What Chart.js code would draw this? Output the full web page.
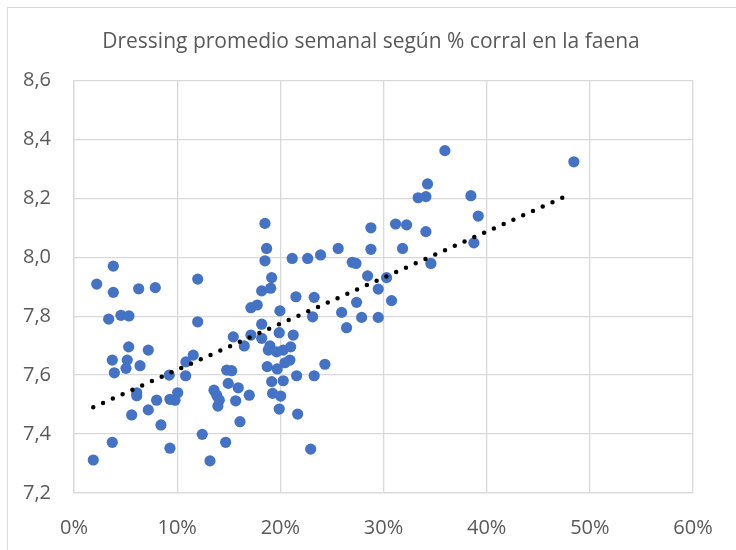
<!DOCTYPE html>
<html>
<head>
<meta charset="utf-8">
<script src="https://cdn.jsdelivr.net/npm/chart.js@4/dist/chart.umd.min.js"></script>
<style>
html,body{margin:0;padding:0;background:#fff;overflow:hidden;width:736px;height:550px;}
#frame{position:absolute;left:7px;top:7px;width:800px;height:600px;border:1px solid #D9D9D9;}
#wrap{position:absolute;left:8px;top:8px;width:736px;height:550px;}
</style>
</head>
<body>
<div id="frame"></div>
<div id="wrap"><canvas id="c" width="736" height="550"></canvas></div>
<script>
const chartTitle = 'Dressing promedio semanal según % corral en la faena';

// % corral en la faena (percent)
const pctCorral = [
  3.81, 2.20, 3.81, 6.27, 7.88, 11.99, 3.36, 4.55, 5.33, 11.99,
  15.44, 5.30, 7.20, 3.71, 5.16, 5.04, 3.91, 6.40, 11.56, 10.85,
  9.23, 10.82, 14.80, 15.28, 14.95, 6.08, 6.08, 8.01, 9.30, 9.79,
  10.05, 7.20, 5.59, 8.43, 13.57, 13.83, 14.08, 13.95, 15.67, 12.43,
  3.71, 9.30, 14.70, 1.87, 13.18, 16.09, 18.51, 18.67, 18.51, 21.15,
  22.65, 23.90, 25.61, 19.16, 18.19, 19.06, 21.51, 23.28, 17.15, 17.76,
  19.96, 25.94, 23.13, 26.42, 18.19, 19.89, 21.25, 17.15, 18.19, 16.50,
  18.99, 18.83, 19.64, 20.28, 21.00, 20.45, 20.93, 24.32, 18.73, 19.70,
  21.58, 23.28, 19.16, 20.28, 15.92, 16.99, 19.25, 20.03, 19.89, 21.68,
  22.94, 35.95, 34.27, 33.36, 34.11, 38.47, 39.18, 31.17, 32.24, 28.78,
  34.11, 28.78, 31.85, 38.76, 26.97, 27.33, 34.59, 28.46, 30.30, 29.49,
  30.78, 27.39, 27.88, 29.49, 48.45
];

// Dressing promedio semanal
const dressing = [
  7.970, 7.909, 7.881, 7.893, 7.897, 7.926, 7.790, 7.803, 7.801, 7.781,
  7.730, 7.696, 7.685, 7.651, 7.651, 7.623, 7.608, 7.632, 7.668, 7.645,
  7.600, 7.598, 7.617, 7.615, 7.572, 7.540, 7.530, 7.515, 7.518, 7.515,
  7.540, 7.482, 7.465, 7.431, 7.549, 7.532, 7.515, 7.495, 7.513, 7.399,
  7.372, 7.352, 7.372, 7.312, 7.309, 7.442, 8.115, 8.030, 7.988, 7.996,
  7.996, 8.008, 8.030, 7.931, 7.886, 7.895, 7.866, 7.864, 7.829, 7.838,
  7.818, 7.813, 7.798, 7.761, 7.773, 7.744, 7.736, 7.736, 7.725, 7.699,
  7.699, 7.685, 7.679, 7.685, 7.696, 7.642, 7.651, 7.637, 7.629, 7.621,
  7.598, 7.598, 7.578, 7.581, 7.557, 7.532, 7.538, 7.529, 7.485, 7.468,
  7.349, 8.362, 8.249, 8.202, 8.206, 8.209, 8.140, 8.113, 8.110, 8.100,
  8.087, 8.027, 8.030, 8.049, 7.983, 7.979, 7.979, 7.937, 7.931, 7.892,
  7.853, 7.847, 7.796, 7.796, 8.324
];

// Linear trendline endpoints
const trendX = [1.87, 47.6];
const trendY = [7.491, 8.206];

const xTicks = [0, 10, 20, 30, 40, 50, 60];
const yTicks = [7.2, 7.4, 7.6, 7.8, 8.0, 8.2, 8.4, 8.6];

const textColor = '#595959';
const gridColor = '#D9D9D9';
const fontFamily = "'Open Sans', 'Liberation Sans', sans-serif";

// Center the title over the whole chart frame rather than the padded box
const titleCenterPlugin = {
  id: 'titleCenter',
  afterLayout(chart) {
    const t = chart.titleBlock;
    if (t) { t.left = 0; t.right = 726; t.width = 726; }
  }
};

new Chart(document.getElementById('c'), {
  type: 'scatter',
  plugins: [titleCenterPlugin],
  data: {
    datasets: [
      {
        type: 'line',
        data: trendX.map((x, i) => ({x: x, y: trendY[i]})),
        borderColor: '#000000',
        borderWidth: 4.5,
        borderDash: [0, 10.7],
        borderCapStyle: 'round',
        pointRadius: 0,
        fill: false,
        order: 0
      },
      {
        data: pctCorral.map((x, i) => ({x: x, y: dressing[i]})),
        backgroundColor: '#4472C4',
        borderWidth: 0,
        pointRadius: 5.6,
        pointHoverRadius: 5.6,
        order: 1
      }
    ]
  },
  options: {
    responsive: false,
    devicePixelRatio: 1,
    animation: false,
    layout: {padding: {left: 0, right: 51, top: 0, bottom: 0}},
    plugins: {
      legend: {display: false},
      tooltip: {enabled: false},
      title: {
        display: true,
        text: chartTitle,
        color: textColor,
        font: {family: fontFamily, size: 21, weight: 'normal'},
        padding: {top: 21, bottom: 26.3}
      }
    },
    scales: {
      x: {
        type: 'linear',
        min: 0, max: 60,
        afterBuildTicks: s => { s.ticks = xTicks.map(v => ({value: v})); },
        afterFit: s => { s.height = 65; },
        ticks: {
          color: textColor,
          font: {family: fontFamily, size: 20},
          padding: 23,
          callback: v => v + '%'
        },
        grid: {color: gridColor, lineWidth: 1.3, drawTicks: false},
        border: {color: gridColor, width: 1.3}
      },
      y: {
        type: 'linear',
        min: 7.2, max: 8.6,
        afterBuildTicks: s => { s.ticks = yTicks.map(v => ({value: v})); },
        afterFit: s => { s.width = 66; },
        ticks: {
          color: textColor,
          font: {family: fontFamily, size: 20},
          padding: 23,
          callback: v => Number(v).toFixed(1).replace('.', ',')
        },
        grid: {color: gridColor, lineWidth: 1.3, drawTicks: false},
        border: {color: gridColor, width: 1.3}
      }
    }
  }
});
</script>
</body>
</html>
